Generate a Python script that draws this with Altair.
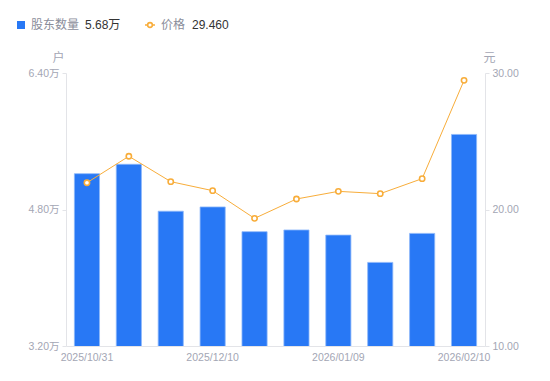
import altair as alt
import pandas as pd

dates = ["2025/10/31", "2025/11/10", "2025/11/28", "2025/12/10", "2025/12/19",
         "2025/12/31", "2026/01/09", "2026/01/20", "2026/01/30", "2026/02/10"]
holders = [5.22, 5.33, 4.78, 4.83, 4.54, 4.56, 4.50, 4.18, 4.52, 5.68]  # 万户
price = [21.96, 23.90, 22.04, 21.38, 19.35, 20.77, 21.33, 21.16, 22.26, 29.46]  # 元
tick_dates = ["2025/10/31", "2025/12/10", "2026/01/09", "2026/02/10"]

df = pd.DataFrame({"date": dates, "holders": holders, "price": price})

FONT = "Liberation Sans, Noto Sans CJK SC, sans-serif"
GREY = "#a3a6b4"
AXIS_LINE = "#e3e4e8"
BLUE = "#2878f5"
ORANGE = "#f8ad3a"

x_enc = alt.X("date:N", sort=None, title=None,
              scale=alt.Scale(paddingInner=0.4, paddingOuter=0.2),
              axis=alt.Axis(values=tick_dates, labelAngle=0, ticks=False,
                            domainColor=AXIS_LINE, labelColor=GREY,
                            labelFontSize=10.5, labelFont=FONT, labelPadding=6))

base = alt.Chart(df)

bars = base.mark_bar(color=BLUE, stroke="#8db8fa", strokeWidth=0.8, clip=True).encode(
    x=x_enc,
    y=alt.Y("holders:Q", scale=alt.Scale(domain=[3.2, 6.4], nice=False, zero=False),
            axis=alt.Axis(values=[3.2, 4.8, 6.4], orient="left", grid=False,
                          labelExpr="format(datum.value, '.2f') + '万'",
                          title="户", titleAngle=0, titleX=-8, titleY=-16,
                          titleAlign="center", titleBaseline="middle",
                          titleColor=GREY, titleFontWeight="normal", titleFontSize=12,
                          titleFont=FONT, domainColor=AXIS_LINE, tickColor=AXIS_LINE,
                          tickSize=4, labelColor=GREY, labelFontSize=10.5,
                          labelFont=FONT, labelPadding=3))
)

y_price = alt.Y("price:Q", scale=alt.Scale(domain=[10, 30], nice=False, zero=False),
                axis=alt.Axis(values=[10, 20, 30], orient="right", grid=False, format=".2f",
                              title="元", titleAngle=0, titleX=4, titleY=-16,
                              titleAlign="center", titleBaseline="middle",
                              titleColor=GREY, titleFontWeight="normal", titleFontSize=12,
                              titleFont=FONT, domainColor=AXIS_LINE, tickColor=AXIS_LINE,
                              tickSize=4, labelColor=GREY, labelFontSize=10.5,
                              labelFont=FONT, labelPadding=3))

price_base = base.encode(x=x_enc, y=y_price)
line = price_base.mark_line(color=ORANGE, strokeWidth=1)
points = price_base.mark_point(shape="circle", filled=False, fill="white", fillOpacity=1,
                               color=ORANGE, strokeWidth=1.6, size=28, opacity=1)

price_layer = alt.layer(line, points)

# Legend (drawn as marks)
leg_df = pd.DataFrame({
    "name1": ["股东数量"], "val1": [f"{holders[-1]:.2f}万"],
    "name2": ["价格"], "val2": [f"{price[-1]:.3f}"],
})
leg = alt.Chart(leg_df)
LY = -48
leg_sq = leg.mark_square(color=BLUE, size=64, opacity=1).encode(
    x=alt.value(-45), y=alt.value(LY))
leg_t1 = leg.mark_text(align="left", baseline="middle", fontSize=12, font=FONT,
                       color="#8a8d9a").encode(x=alt.value(-35), y=alt.value(LY), text="name1:N")
leg_v1 = leg.mark_text(align="left", baseline="middle", fontSize=12, font=FONT,
                       color="#333333").encode(x=alt.value(19), y=alt.value(LY), text="val1:N")
leg_ln = leg.mark_rule(color=ORANGE, strokeWidth=1.5).encode(
    x=alt.value(79), x2=alt.value(89), y=alt.value(LY))
leg_pt = leg.mark_point(shape="circle", filled=False, fill="white", fillOpacity=1,
                        color=ORANGE, strokeWidth=1.6, size=22, opacity=1).encode(
    x=alt.value(84), y=alt.value(LY))
leg_t2 = leg.mark_text(align="left", baseline="middle", fontSize=12, font=FONT,
                       color="#8a8d9a").encode(x=alt.value(95), y=alt.value(LY), text="name2:N")
leg_v2 = leg.mark_text(align="left", baseline="middle", fontSize=12, font=FONT,
                       color="#333333").encode(x=alt.value(126), y=alt.value(LY), text="val2:N")

chart = alt.layer(bars, price_layer, leg_sq, leg_t1, leg_v1, leg_ln, leg_pt, leg_t2, leg_v2
).resolve_scale(
    y="independent"
).properties(
    width=419, height=273,
    autosize=alt.AutoSizeParams(type="none"),
    padding={"left": 58, "top": 65, "right": 57, "bottom": 27},
    background="white",
).configure_view(strokeWidth=0, stroke="transparent")

chart.save("out.html", embed_options={"renderer": "svg", "actions": False})
